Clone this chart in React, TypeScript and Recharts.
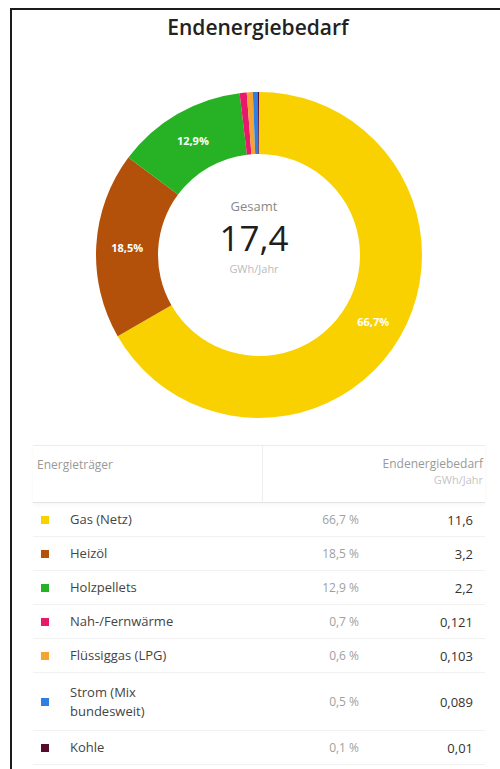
// Endenergiebedarf: donut with total in the middle, table of carriers below.
import { PieChart, Pie, Cell } from "recharts";

const CARRIERS = [
  "Gas (Netz)",
  "Heizöl",
  "Holzpellets",
  "Nah-/Fernwärme",
  "Flüssiggas (LPG)",
  "Strom (Mix bundesweit)",
  "Kohle",
];
const SHARES = [66.7, 18.5, 12.9, 0.7, 0.6, 0.5, 0.1];
const DEMAND = ["11,6", "3,2", "2,2", "0,121", "0,103", "0,089", "0,01"];
const COLORS = ["#f9d100", "#b3500a", "#27b225", "#e8196a", "#f4a430", "#2d7fe0", "#5a0b2c"];
const TOTAL = "17,4";
const UNIT = "GWh/Jahr";

const FONT = "'Open Sans', 'Noto Sans', sans-serif";
const fmtPct = (v: number) => v.toFixed(1).replace(".", ",");

const data = CARRIERS.map((name, i) => ({ name, share: SHARES[i], color: COLORS[i] }));

const RADIAN = Math.PI / 180;

function SliceLabel(props: any) {
  const { cx, cy, midAngle, innerRadius, outerRadius, payload } = props;
  const share = payload?.share ?? 0;
  if (share < 5) return null;
  const r = (innerRadius + outerRadius) / 2;
  const x = cx + r * Math.cos(-midAngle * RADIAN);
  const y = cy + r * Math.sin(-midAngle * RADIAN);
  return (
    <text
      x={x}
      y={y}
      fill="#fff"
      textAnchor="middle"
      dominantBaseline="central"
      style={{ fontSize: 11, fontWeight: 700, fontFamily: FONT }}
    >
      {fmtPct(share)}%
    </text>
  );
}

export default function App() {
  return (
    <div
      style={{
        position: "absolute",
        left: 0,
        top: 0,
        width: 500,
        height: 769,
        background: "#fff",
        overflow: "hidden",
        fontFamily: FONT,
      }}
    >
      {/* frame, only top and left edges are visible */}
      <div
        style={{
          position: "absolute",
          left: 10,
          top: 8,
          width: 600,
          height: 900,
          borderLeft: "2px solid #1b1b1b",
          borderTop: "2px solid #1b1b1b",
        }}
      />

      <div
        style={{
          position: "absolute",
          left: 12,
          width: 492,
          top: 13,
          textAlign: "center",
          fontSize: 21,
          fontWeight: 600,
          color: "#222",
        }}
      >
        Endenergiebedarf
      </div>

      <div style={{ position: "absolute", left: 0, top: 75 }}>
        <PieChart width={500} height={350}>
          <Pie
            data={data}
            dataKey="share"
            nameKey="name"
            cx={254}
            cy={175}
            innerRadius={101}
            outerRadius={163}
            startAngle={90}
            endAngle={-270}
            stroke="none"
            label={SliceLabel}
            labelLine={false}
            isAnimationActive={false}
          >
            {data.map((d, i) => (
              <Cell key={i} fill={d.color} />
            ))}
          </Pie>
        </PieChart>
      </div>

      {/* centre text */}
      <div
        style={{
          position: "absolute",
          left: 154,
          width: 200,
          top: 196,
          textAlign: "center",
        }}
      >
        <div style={{ fontSize: 13, color: "#888", lineHeight: "20px" }}>Gesamt</div>
        <div style={{ fontSize: 35, color: "#1e1e1e", lineHeight: "44px", fontWeight: 500 }}>
          {TOTAL}
        </div>
        <div style={{ fontSize: 11, color: "#bbb", lineHeight: "18px" }}>{UNIT}</div>
      </div>

      {/* table */}
      <div
        style={{
          position: "absolute",
          left: 33,
          top: 445,
          width: 452,
          fontSize: 13,
        }}
      >
        <div
          style={{
            display: "flex",
            height: 56,
            borderTop: "1px solid #ececec",
            borderBottom: "1px solid #e4e4e4",
            boxShadow: "0 2px 4px rgba(0,0,0,0.04)",
            color: "#999",
            fontSize: 12,
          }}
        >
          <div style={{ width: 225, paddingLeft: 4, paddingTop: 10, borderRight: "1px solid #eee" }}>
            Energieträger
          </div>
          <div style={{ flex: 1, textAlign: "right", paddingRight: 2, paddingTop: 10, lineHeight: "16px" }}>
            <div>Endenergiebedarf</div>
            <div style={{ color: "#c4c4c4", fontSize: 11 }}>{UNIT}</div>
          </div>
        </div>
        {CARRIERS.map((name, i) => {
          const twoLine = name.length > 18;
          return (
            <div
              key={name}
              style={{
                display: "flex",
                alignItems: "center",
                height: twoLine ? 57 : 33,
                borderBottom: "1px solid #f1f1f1",
              }}
            >
              <div
                style={{
                  width: 8,
                  height: 8,
                  marginLeft: 8,
                  marginRight: 21,
                  background: COLORS[i],
                  flex: "none",
                }}
              />
              <div style={{ width: 146, color: "#444", lineHeight: "19px" }}>
                {twoLine ? (
                  <>
                    Strom (Mix
                    <br />
                    bundesweit)
                  </>
                ) : (
                  name
                )}
              </div>
              <div style={{ width: 143, textAlign: "right", color: "#a0a0a0", fontSize: 12 }}>
                {fmtPct(SHARES[i])} %
              </div>
              <div style={{ flex: 1, textAlign: "right", paddingRight: 12, color: "#333" }}>
                {DEMAND[i]}
              </div>
            </div>
          );
        })}
      </div>
    </div>
  );
}
